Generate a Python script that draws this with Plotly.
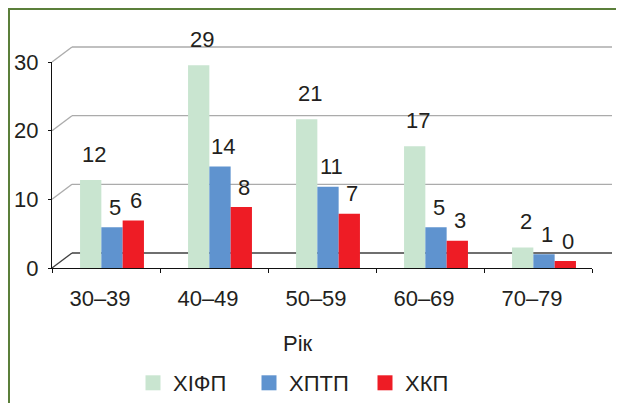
import plotly.graph_objects as go

# ---- data ----
categories = ["30–39", "40–49", "50–59", "60–69", "70–79"]
series_names = ["ХІФП", "ХПТП", "ХКП"]
hifp = [12, 29, 21, 17, 2]
hptp = [5, 14, 11, 5, 1]
hkp = [6, 8, 7, 3, 0]
y_ticks = [0, 10, 20, 30]
x_title = "Рік"

series_values = [hifp, hptp, hkp]
colors = ["#C9E5D0", "#5F93CF", "#EE1C25"]
label_lift = [26, 20, 20]   # px between bar top and its value label, per series

# ---- layout geometry (pixels, page coordinates; page body has an 8px margin) ----
OFF = 8
W_FIG, H_FIG = 624 - OFF, 403 - OFF
AX_L, AX_R, AX_T, AX_B = 52, 592, 62, 268   # front axes box in page pixels
L, T = AX_L - OFF, AX_T - OFF
R, B = W_FIG - (AX_R - OFF), H_FIG - (AX_B - OFF)
PW, PH = AX_R - AX_L, AX_B - AX_T
Y_MAX = 30
px_per_unit = PH / Y_MAX          # front (tick) scale
bar_px_per_unit = 6.75            # bar scale at mid depth
bar_zero_lift = 7                 # px the bar floor sits above the front axis
depth_dx, depth_dy = 20, 15       # back-wall offset
group_shift_px = 6
cat_px = PW / len(categories)
bar_w_px = 21.3

FONT = "Liberation Sans Narrow, Arial Narrow, Liberation Sans, Arial, sans-serif"
FS = 22
TXT = "#231F20"

def fx(px):   # page pixel -> paper x
    return (px - AX_L) / PW

def fy(py):   # page pixel -> paper y
    return (AX_B - py) / PH

y_min = -bar_zero_lift / bar_px_per_unit
y_max = y_min + PH / bar_px_per_unit
tick_pos = [y_min + v * px_per_unit / bar_px_per_unit for v in y_ticks]

fig = go.Figure()
n = len(series_names)
for i, (name, vals, col) in enumerate(zip(series_names, series_values, colors)):
    offset_px = group_shift_px + (i - n / 2) * bar_w_px
    fig.add_trace(go.Bar(
        x=categories, y=[v - y_min for v in vals], base=y_min,
        name=name, marker=dict(color=col, line=dict(width=0)),
        width=bar_w_px / cat_px, offset=offset_px / cat_px,
        cliponaxis=False, hoverinfo="skip", showlegend=False,
    ))
    fig.add_trace(go.Scatter(
        x=[None], y=[None], mode="markers", name=name,
        marker=dict(symbol="square", size=15, color=col), hoverinfo="skip",
    ))
    for c, v in zip(categories, vals):
        fig.add_annotation(
            x=c, xref="x", y=v, yref="y", text=str(v), showarrow=False,
            xshift=offset_px + bar_w_px / 2 + 3, yshift=label_lift[i],
            xanchor="center", yanchor="middle",
            font=dict(family=FONT, size=FS, color=TXT),
        )

shapes = []
for v in y_ticks:
    y_front = AX_B - v * px_per_unit
    col = "#3F3F3F" if v == 0 else "#ABABAB"
    shapes.append(dict(type="line", xref="paper", yref="paper",
                       x0=fx(AX_L), y0=fy(y_front), x1=fx(AX_L + depth_dx), y1=fy(y_front - depth_dy),
                       line=dict(color=col, width=1.3), layer="below"))
    shapes.append(dict(type="line", xref="paper", yref="paper",
                       x0=fx(AX_L + depth_dx), y0=fy(y_front - depth_dy),
                       x1=fx(AX_R + depth_dx), y1=fy(y_front - depth_dy),
                       line=dict(color=col, width=1.3), layer="below"))
# outer green frame (top and left edges)
shapes.append(dict(type="path", xref="paper", yref="paper",
                   path=f"M {fx(640)} {fy(9)} L {fx(9)} {fy(9)} L {fx(9)} {fy(420)}",
                   line=dict(color="#5B7F3A", width=2)))

fig.update_layout(
    width=W_FIG, height=H_FIG, autosize=False,
    margin=dict(l=L, r=R, t=T, b=B, pad=0, autoexpand=False),
    paper_bgcolor="white", plot_bgcolor="rgba(0,0,0,0)",
    barmode="group",
    font=dict(family=FONT, size=FS, color=TXT),
    shapes=shapes,
    showlegend=True,
    legend=dict(orientation="h", x=fx(133), xanchor="left", y=fy(383), yanchor="middle",
                font=dict(family=FONT, size=FS, color=TXT), entrywidth=71, entrywidthmode="pixels",
                itemsizing="trace",
                bgcolor="rgba(0,0,0,0)", traceorder="normal", itemclick=False),
    xaxis=dict(type="category", showgrid=False, showline=True, linecolor="#111", linewidth=1.3,
               ticks="outside", ticklen=4, tickcolor="#111", tickson="boundaries",
               ticklabelshift=-6, ticklabelstandoff=10,
               tickfont=dict(family=FONT, size=FS, color=TXT), zeroline=False, fixedrange=True),
    yaxis=dict(range=[y_min, y_max], tickvals=tick_pos, ticktext=[str(v) for v in y_ticks],
               showgrid=False, showline=True,
               linecolor="#111", linewidth=1.3, ticks="outside", ticklen=3, tickcolor="#111",
               ticklabelstandoff=5, zeroline=False,
               tickfont=dict(family=FONT, size=FS, color=TXT), fixedrange=True),
)
fig.add_annotation(x=fx(298), xref="paper", y=fy(343), yref="paper", text=x_title,
                   xanchor="center", yanchor="middle",
                   showarrow=False, font=dict(family=FONT, size=FS, color=TXT))

fig.write_html("out.html")
